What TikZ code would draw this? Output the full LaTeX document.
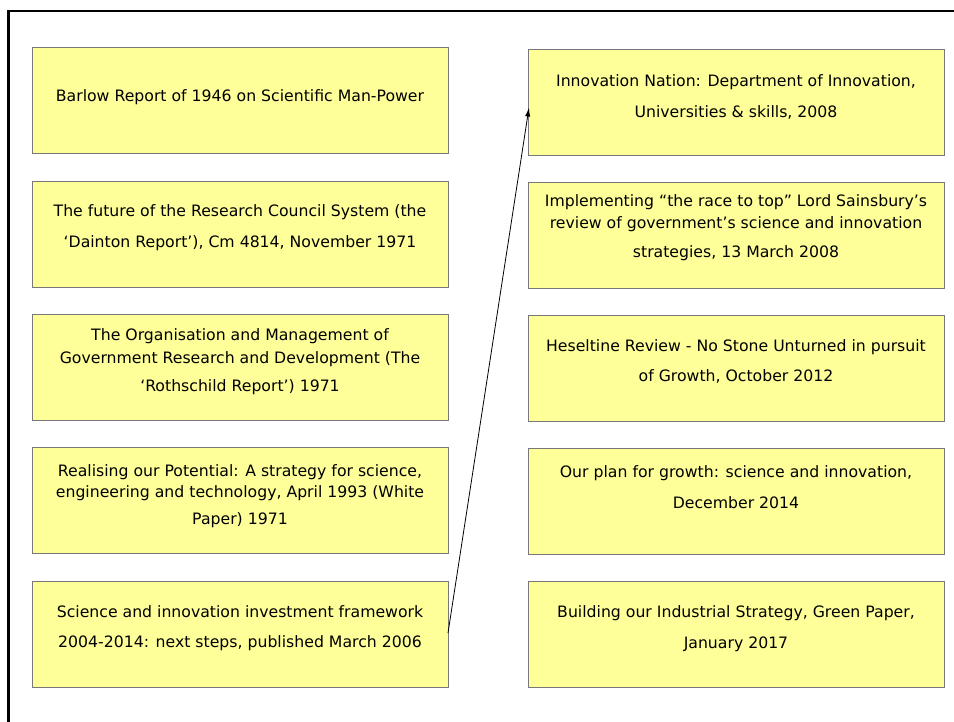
\documentclass[tikz,border=0pt]{standalone}
\usepackage{fontspec}
\setmainfont{DejaVu Sans}
\usetikzlibrary{arrows.meta}
\definecolor{boxfill}{RGB}{255,255,153}
\definecolor{boxline}{RGB}{120,120,120}
\tikzset{
  box/.style={draw=boxline, line width=1pt, fill=boxfill, minimum width=416pt, minimum height=106pt, inner sep=0pt, outer sep=0pt},
  txt/.style={anchor=base, inner sep=0pt, font=\fontsize{15.7pt}{18pt}\selectfont, text=black},
  arr/.style={-{Latex[length=9pt,width=5pt]}, line width=0.8pt, black}
}
\begin{document}
\begin{tikzpicture}[x=1pt,y=-1pt]
\useasboundingbox (0,0) rectangle (954,722);
\fill[white] (0,0) rectangle (954,722);
\coordinate (fa) at (8.7,722);
\coordinate (fb) at (8.7,11);
\coordinate (fc) at (954,11);
\draw[line width=2.5pt, black] (fa) -- (fb) -- (fc);

% left column
\node[box] (L1) at (240,101) {};
\node[box] (L2) at (240,234.5) {};
\node[box] (L3) at (240,367.5) {};
\node[box] (L4) at (240,500) {};
\node[box] (L5) at (240,634) {};
% right column
\node[box] (R1) at (736,102.5) {};
\node[box] (R2) at (736,235.5) {};
\node[box] (R3) at (736,368.5) {};
\node[box] (R4) at (736,501) {};
\node[box] (R5) at (736,634) {};

\node[txt] (L1a) at ([yshift=-54pt]L1.north) {Barlow Report of 1946 on Scientific Man-Power};

\node[txt] (L2a) at ([yshift=-35pt]L2.north) {The future of the Research Council System (the};
\node[txt] (L2b) at ([yshift=-66pt]L2.north) {‘Dainton Report’), Cm 4814, November 1971};

\node[txt] (L3a) at ([yshift=-26pt]L3.north) {The Organisation and Management of};
\node[txt] (L3b) at ([yshift=-48.5pt]L3.north) {Government Research and Development (The};
\node[txt] (L3c) at ([yshift=-77pt]L3.north) {‘Rothschild Report’) 1971};

\node[txt] (L4a) at ([yshift=-29pt]L4.north) {Realising our Potential: A strategy for science,};
\node[txt] (L4b) at ([yshift=-50pt]L4.north) {engineering and technology, April 1993 (White};
\node[txt] (L4c) at ([yshift=-77pt]L4.north) {Paper) 1971};

\node[txt] (L5a) at ([yshift=-36pt]L5.north) {Science and innovation investment framework};
\node[txt] (L5b) at ([yshift=-66pt]L5.north) {2004-2014: next steps, published March 2006};

\node[txt] (R1a) at ([yshift=-37pt]R1.north) {Innovation Nation: Department of Innovation,};
\node[txt] (R1b) at ([yshift=-68pt]R1.north) {Universities \& skills, 2008};

\node[txt] (R2a) at ([yshift=-24pt]R2.north) {Implementing “the race to top” Lord Sainsbury’s};
\node[txt] (R2b) at ([yshift=-46pt]R2.north) {review of government’s science and innovation};
\node[txt] (R2c) at ([yshift=-75pt]R2.north) {strategies, 13 March 2008};

\node[txt] (R3a) at ([yshift=-36.5pt]R3.north) {Heseltine Review - No Stone Unturned in pursuit};
\node[txt] (R3b) at ([yshift=-66pt]R3.north) {of Growth, October 2012};

\node[txt] (R4a) at ([yshift=-29pt]R4.north) {Our plan for growth: science and innovation,};
\node[txt] (R4b) at ([yshift=-60pt]R4.north) {December 2014};

\node[txt] (R5a) at ([yshift=-36pt]R5.north) {Building our Industrial Strategy, Green Paper,};
\node[txt] (R5b) at ([yshift=-67pt]R5.north) {January 2017};

\draw[arr] ([yshift=1pt]L5.east) -- ([yshift=-5pt,xshift=1pt]R1.west);
\end{tikzpicture}
\end{document}
